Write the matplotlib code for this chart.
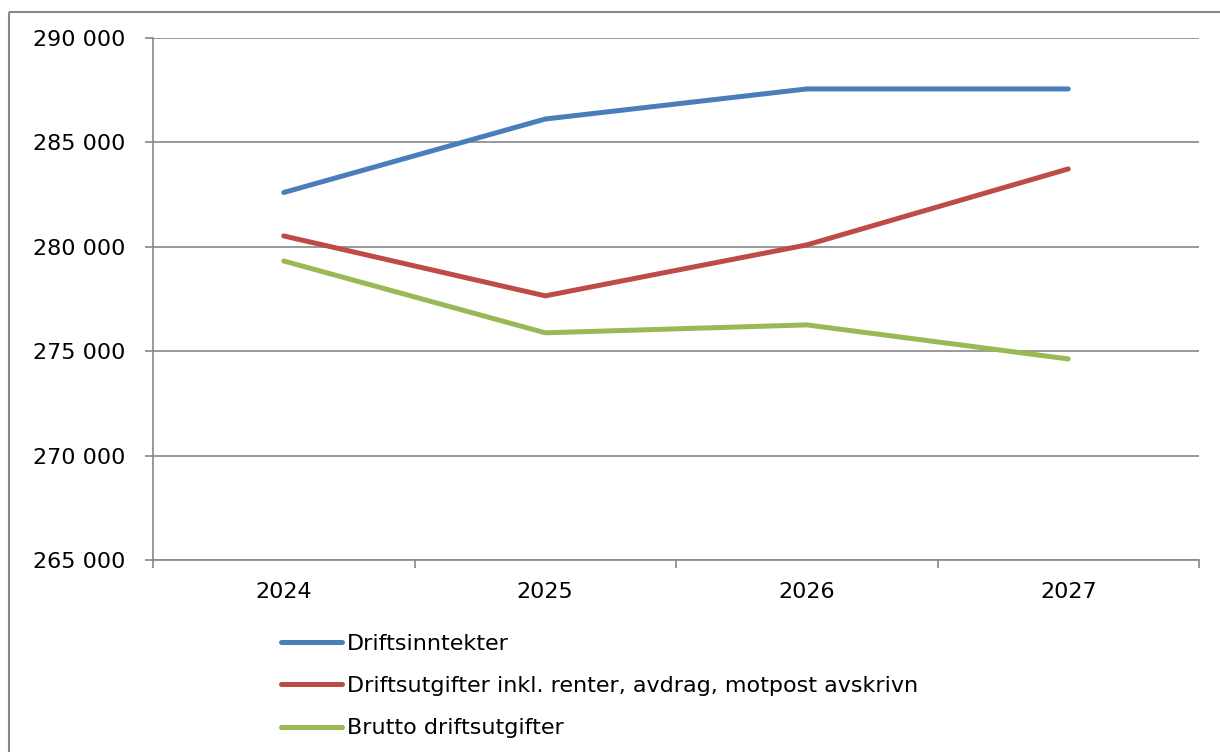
import numpy as np
import matplotlib.pyplot as plt
from matplotlib.lines import Line2D

years = ['2024', '2025', '2026', '2027']
inntekter = [282600, 286120, 287560, 287560]
utgifter_inkl = [280520, 277650, 280090, 283730]
brutto = [279320, 275880, 276260, 274630]

labels = ['Driftsinntekter',
          'Driftsutgifter inkl. renter, avdrag, motpost avskrivn',
          'Brutto driftsutgifter']
colors = ['#4A7EBB', '#BE4B48', '#98B954']
grey = '#878787'

plt.rcParams['font.family'] = ['DejaVu Sans']

fig = plt.figure(figsize=(12.2, 7.52), dpi=100)
ax = fig.add_axes([153/1220, 1-560/752, (1199-153)/1220, (560-38)/752])

# outer chart frame (only left and top visible)
fx, fy = 8.5/1220, 1-12/752
fig.add_artist(Line2D([fx, fx], [-0.05, fy], transform=fig.transFigure, color=grey,
                      lw=1.5, solid_capstyle='butt'))
fig.add_artist(Line2D([fx, 1.05], [fy, fy], transform=fig.transFigure, color=grey,
                      lw=1.5, solid_capstyle='butt'))

x = np.arange(len(years))
for vals, lab, c in zip([inntekter, utgifter_inkl, brutto], labels, colors):
    ax.plot(x, vals, color=c, lw=3.6, label=lab, solid_capstyle='round')

ax.set_xlim(-0.5, 3.5)
ax.set_ylim(265000, 290000)
ax.set_yticks(np.arange(265000, 290001, 5000))
ax.set_yticklabels([f'{v:,}'.replace(',', ' ') for v in range(265000, 290001, 5000)])
ax.yaxis.grid(True, color=grey, lw=1.2)
ax.set_axisbelow(True)

ax.set_xticks(np.arange(-0.5, 3.6, 1))
ax.set_xticklabels([])
ax.set_xticks(x, minor=True)
ax.set_xticklabels(years, minor=True)
ax.tick_params(axis='x', which='major', length=6, width=1.2, color=grey, direction='out')
ax.tick_params(axis='x', which='minor', length=0, pad=16, labelsize=16)
ax.tick_params(axis='y', length=6, width=1.2, color=grey, pad=14, labelsize=16)

for s in ['top', 'right']:
    ax.spines[s].set_visible(False)
for s in ['left', 'bottom']:
    ax.spines[s].set_color(grey)
    ax.spines[s].set_linewidth(1.2)

fig.legend(loc='upper left', bbox_to_anchor=(281/1220, 1-634/752), frameon=False,
           fontsize=16, handlelength=2.75, handletextpad=0.2, labelspacing=1.0,
           borderpad=0, borderaxespad=0)

fig.savefig('out.png', dpi=100)
